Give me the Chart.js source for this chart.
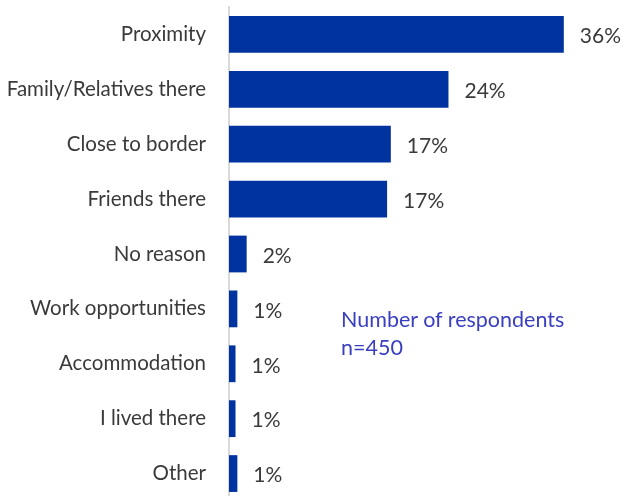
<!DOCTYPE html>
<html>
<head>
<meta charset="utf-8">
<script src="https://cdn.jsdelivr.net/npm/chart.js@4"></script>
<style>
  html, body { margin: 0; padding: 0; background: #fff; overflow: hidden; }
  #wrap { position: relative; width: 623px; height: 502px; }
  #note { position: absolute; left: 341px; top: 305px; color: #3a3fc0;
          font-family: Lato, sans-serif; font-size: 21.5px; line-height: 28px; }
</style>
</head>
<body>
<div id="wrap">
  <canvas id="BarChart" width="623" height="502"></canvas>
  <div id="note">Number of respondents<br>n=450</div>
</div>
<script>
var categories = ['Proximity', 'Family/Relatives there', 'Close to border', 'Friends there',
                  'No reason', 'Work opportunities', 'Accommodation', 'I lived there', 'Other'];
var shares = [36, 23.6, 17.4, 17, 1.9, 0.9, 0.7, 0.7, 0.9];
var shareLabels = ['36%', '24%', '17%', '17%', '2%', '1%', '1%', '1%', '1%'];

// value labels at the end of each bar
var valueLabels = {
    id: 'valueLabels',
    afterDatasetsDraw(chart) {
        var ctx = chart.ctx;
        var meta = chart.getDatasetMeta(0);
        ctx.save();
        ctx.font = '21px Lato, sans-serif';
        ctx.fillStyle = '#3a3a3a';
        ctx.textBaseline = 'middle';
        meta.data.forEach(function (bar, i) {
            ctx.fillText(shareLabels[i], bar.x + 16, bar.y + 2);
        });
        ctx.restore();
    }
};

var config = {
    type: 'bar',
    data: {
        labels: categories,
        datasets: [{
            data: shares,
            backgroundColor: '#0033a0',
            categoryPercentage: 1,
            barPercentage: 0.67,
        }]
    },
    options: {
        indexAxis: 'y',
        responsive: false,
        animation: false,
        layout: { padding: { top: 7, right: 22, bottom: 1, left: 0 } },
        plugins: { legend: { display: false }, tooltip: { enabled: false } },
        scales: {
            x: { display: false, min: 0, max: 40 },
            y: {
                afterFit: function (axis) {
                    axis.width = 229;
                    // drop the extra top/bottom room that tick padding adds
                    axis.paddingTop = 0;
                    axis.paddingBottom = 0;
                },
                grid: { display: false, drawTicks: false },
                border: { display: true, color: '#d9d9d9', width: 2 },
                ticks: {
                    padding: 23,
                    color: '#3a3a3a',
                    font: { family: 'Lato, sans-serif', size: 20.5 },
                }
            }
        }
    },
    plugins: [valueLabels]
};

var barChart = new Chart(document.getElementById('BarChart'), config);
</script>
</body>
</html>
